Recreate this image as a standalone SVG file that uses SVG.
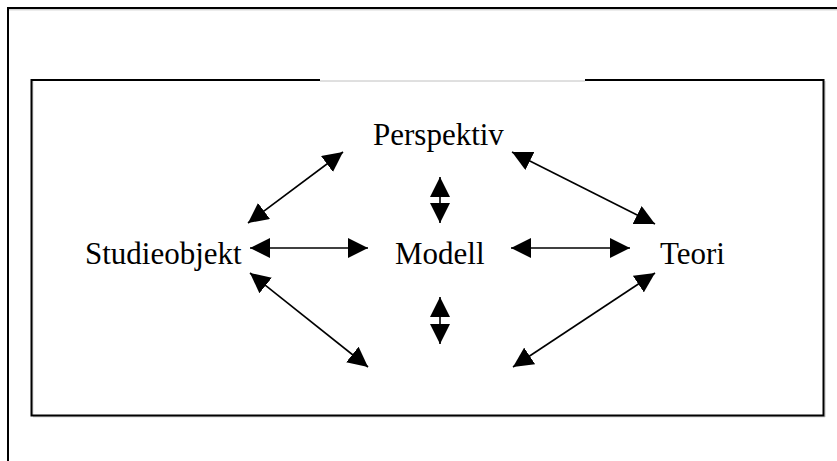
<svg xmlns="http://www.w3.org/2000/svg" width="837" height="461" viewBox="0 0 837 461">
<style>
.frame{stroke:#000;stroke-width:2;fill:none}
.shadow{stroke:#c0c0c0;stroke-width:1;fill:none}
.conn{stroke:#000;stroke-width:1.6;fill:none;marker-start:url(#ah);marker-end:url(#ah)}
.lbl{font-family:"Liberation Serif","Times New Roman",serif;font-size:31px;fill:#000}
</style>
<defs>
<marker id="ah" viewBox="0 0 20 20" refX="20" refY="10" markerWidth="20" markerHeight="20" markerUnits="userSpaceOnUse" orient="auto-start-reverse">
<path d="M0,0 L20,10 L0,20 z" fill="#000"/>
</marker>
</defs>
<rect width="837" height="461" fill="#fff"/>
<g id="outer-frame">
<line class="shadow" x1="9" y1="9.8" x2="837" y2="9.8"/>
<polyline class="frame" points="837,8 8,8 8,461"/>
</g>
<g id="inner-frame">
<line class="shadow" x1="320" y1="81" x2="585" y2="81"/>
<line class="shadow" x1="33" y1="416.8" x2="825" y2="416.8"/>
<line class="shadow" x1="825" y1="81" x2="825" y2="417"/>
<line class="shadow" x1="32.8" y1="81" x2="32.8" y2="415"/>
<polyline class="frame" points="320,80 31.5,80 31.5,415.5 823.5,415.5 823.5,80 585,80"/>
</g>
<g id="perspektiv"><text class="lbl" x="373" y="145">Perspektiv</text></g>
<g id="studieobjekt"><text class="lbl" x="85" y="264">Studieobjekt</text></g>
<g id="modell"><text class="lbl" x="395" y="264">Modell</text></g>
<g id="teori"><text class="lbl" x="660" y="264">Teori</text></g>
<g id="connectors">
<line class="conn" x1="343" y1="152" x2="248" y2="223"/>
<line class="conn" x1="512" y1="152" x2="655" y2="224"/>
<line class="conn" x1="250" y1="248" x2="368" y2="248"/>
<line class="conn" x1="511" y1="248" x2="630" y2="248"/>
<line class="conn" x1="440" y1="177" x2="440" y2="223"/>
<line class="conn" x1="440" y1="297" x2="440" y2="344"/>
<line class="conn" x1="250" y1="273" x2="368" y2="367"/>
<line class="conn" x1="655" y1="273" x2="513" y2="367"/>
</g>
</svg>
